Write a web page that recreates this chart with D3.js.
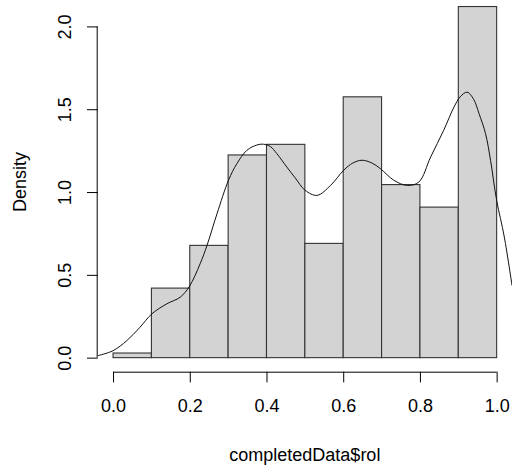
<!DOCTYPE html>
<html>
<head>
<meta charset="utf-8">
<script src="https://cdn.jsdelivr.net/npm/d3@7"></script>
<style>
  html, body { margin: 0; padding: 0; background: #fff; }
  svg { display: block; }
  text { font-family: "Liberation Sans", Arial, sans-serif; font-size: 18px; fill: #000; }
</style>
</head>
<body>
<svg id="chart" width="512" height="468"></svg>
<script>
// Histogram bins (breaks) and densities
const binStarts = [0.0, 0.1, 0.2, 0.3, 0.4, 0.5, 0.6, 0.7, 0.8, 0.9];
const binWidth = 0.1;
const binDensity = [0.028, 0.42, 0.678, 1.224, 1.288, 0.69, 1.575, 1.045, 0.909, 2.12];

// Kernel density curve
const densX = [-0.04, 0.0, 0.036, 0.07, 0.101, 0.14, 0.175, 0.199, 0.227, 0.245, 0.271, 0.301, 0.323, 0.349, 0.375, 0.392, 0.41, 0.427, 0.453, 0.475, 0.501, 0.532, 0.567, 0.601, 0.625, 0.649, 0.675, 0.697, 0.732, 0.767, 0.797, 0.828, 0.862, 0.889, 0.905, 0.923, 0.94, 0.954, 0.971, 0.984, 1.0, 1.02, 1.04];
const densY = [0.012, 0.042, 0.103, 0.183, 0.264, 0.325, 0.365, 0.43, 0.567, 0.678, 0.869, 1.071, 1.172, 1.252, 1.284, 1.289, 1.275, 1.232, 1.151, 1.085, 1.01, 0.98, 1.04, 1.131, 1.175, 1.192, 1.175, 1.141, 1.071, 1.04, 1.06, 1.212, 1.373, 1.514, 1.575, 1.603, 1.56, 1.474, 1.353, 1.192, 0.95, 0.728, 0.436];

const xTicks = [0.0, 0.2, 0.4, 0.6, 0.8, 1.0];
const yTicks = [0.0, 0.5, 1.0, 1.5, 2.0];
const xLabel = "completedData$rol";
const yLabel = "Density";

const svg = d3.select("#chart");
const plot = { left: 97.7, right: 512, top: -7.5, bottom: 371.7 };

const x = d3.scaleLinear().domain([-0.04, 1.04]).range([plot.left, plot.right]);
const yMax = 2.12;
const y = d3.scaleLinear().domain([-0.04 * yMax, yMax * 1.04]).range([plot.bottom, plot.top]);

svg.append("defs").append("clipPath").attr("id", "clip")
  .append("rect")
  .attr("x", plot.left).attr("y", plot.top)
  .attr("width", plot.right - plot.left).attr("height", plot.bottom - plot.top);

// Bars
svg.append("g").selectAll("rect")
  .data(binStarts.map((s, i) => ({ s, d: binDensity[i] })))
  .join("rect")
  .attr("x", d => x(d.s))
  .attr("width", d => x(d.s + binWidth) - x(d.s))
  .attr("y", d => y(d.d))
  .attr("height", d => y(0) - y(d.d))
  .attr("fill", "#d3d3d3")
  .attr("stroke", "#333")
  .attr("stroke-width", 1.1);

// Density line
const line = d3.line()
  .x(d => x(d[0]))
  .y(d => y(d[1]))
  .curve(d3.curveCatmullRom.alpha(0.5));
svg.append("path")
  .attr("clip-path", "url(#clip)")
  .datum(densX.map((v, i) => [v, densY[i]]))
  .attr("d", line)
  .attr("fill", "none")
  .attr("stroke", "#111")
  .attr("stroke-width", 1);

// X axis
const gx = svg.append("g").attr("transform", `translate(0,${plot.bottom})`)
  .call(d3.axisBottom(x).tickValues(xTicks).tickSize(10.7).tickSizeOuter(0).tickFormat(d3.format(".1f")));
gx.select(".domain").remove();
gx.append("line")
  .attr("x1", x(xTicks[0])).attr("x2", x(xTicks[xTicks.length - 1]))
  .attr("y1", 0.5).attr("y2", 0.5).attr("stroke", "#000");
gx.selectAll(".tick line").attr("stroke", "#000");
gx.selectAll(".tick text").attr("y", 40).attr("dy", 0)
  .style("font-family", '"Liberation Sans", Arial, sans-serif').style("font-size", "18px").attr("fill", "#000");

// Y axis
const gy = svg.append("g").attr("transform", `translate(${plot.left},0)`)
  .call(d3.axisLeft(y).tickValues(yTicks).tickSize(10.7).tickSizeOuter(0).tickFormat(d3.format(".1f")));
gy.select(".domain").remove();
gy.append("line")
  .attr("y1", y(yTicks[0])).attr("y2", y(yTicks[yTicks.length - 1]))
  .attr("x1", -0.5).attr("x2", -0.5).attr("stroke", "#000");
gy.selectAll(".tick line").attr("stroke", "#000");
gy.selectAll(".tick text")
  .attr("x", null).attr("dy", null)
  .attr("text-anchor", "middle")
  .attr("transform", "translate(-26.7,0) rotate(-90)")
  .style("font-family", '"Liberation Sans", Arial, sans-serif').style("font-size", "18px").attr("fill", "#000");

// Axis labels
svg.append("text")
  .attr("x", (plot.left + plot.right) / 2).attr("y", 461)
  .attr("text-anchor", "middle").text(xLabel);
svg.append("text")
  .attr("transform", `translate(26,${(plot.top + plot.bottom) / 2}) rotate(-90)`)
  .attr("text-anchor", "middle").text(yLabel);
</script>
</body>
</html>
